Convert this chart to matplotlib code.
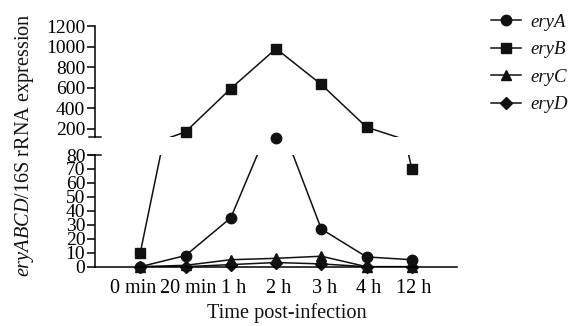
import numpy as np
import matplotlib
matplotlib.use("Agg")
import matplotlib.pyplot as plt
import matplotlib.transforms as mtransforms

plt.rcParams['font.family'] = 'Liberation Serif'
plt.rcParams['mathtext.fontset'] = 'custom'
plt.rcParams['mathtext.rm'] = 'Liberation Serif'
plt.rcParams['mathtext.it'] = 'Liberation Serif:italic'

# datos
tiempos = ['0 min', '20 min', '1 h', '2 h', '3 h', '4 h', '12 h']
eryA = [0, 8, 35, 112, 27, 7, 5]
eryB = [10, 167, 590, 980, 630, 213, 70]
eryC = [0, 1, 5, 6, 7.5, 0, 0]
eryD = [0, 0, 1.5, 3, 2, 0, 0]

series = [('eryA', eryA, 'o'), ('eryB', eryB, 's'), ('eryC', eryC, '^'), ('eryD', eryD, 'D')]
tamanos = {'o': 7.5, 's': 7.5, '^': 7.5, 'D': 6.5}

color = '#111111'
fs = 14
fs_x = 14.5
fs_lab = 14.6

fig = plt.figure(figsize=(5.84, 3.26), dpi=100)
ax_sup = fig.add_axes([0.1627, 0.580, 0.620, 0.340])
ax_inf = fig.add_axes([0.1627, 0.1819, 0.620, 0.3426])

x = np.arange(len(tiempos))

for nombre, vals, mk in series:
    vals = np.array(vals, dtype=float)
    for ax in (ax_sup, ax_inf):
        ax.plot(x, vals, color=color, lw=1.1)
    m_sup = vals >= 100
    m_inf = vals <= 80
    ax_sup.plot(x[m_sup], vals[m_sup], ls='none', marker=mk, ms=tamanos[mk],
                color=color, clip_on=False)
    ax_inf.plot(x[m_inf], vals[m_inf], ls='none', marker=mk, ms=tamanos[mk],
                color=color, clip_on=False)
    # solo para la leyenda
    ax_sup.plot([], [], color=color, lw=1.1, marker=mk, ms=tamanos[mk], label=nombre)

for ax in (ax_sup, ax_inf):
    ax.set_xlim(-1, 7)
    for s in ('top', 'right'):
        ax.spines[s].set_visible(False)
    ax.spines['left'].set_linewidth(1.1)
    ax.tick_params(axis='y', length=6, width=1.1, pad=1, labelsize=fs)

ax_sup.set_ylim(118, 1200)
ax_sup.set_yticks(range(200, 1201, 200))
ax_sup.spines['bottom'].set_visible(False)
ax_sup.set_xticks([])

ax_inf.set_ylim(0, 80)
ax_inf.set_yticks(range(0, 81, 10))
ax_inf.spines['bottom'].set_linewidth(1.1)
ax_inf.set_xticks(x)
ax_inf.set_xticklabels(tiempos, fontsize=fs_x)
ax_inf.tick_params(axis='x', length=0, pad=9)

# pequeños corrimientos de las etiquetas como en el original
desplaz = [-7, 3, 3, 3, 3, 2, 2]
for lab, dx in zip(ax_inf.get_xticklabels(), desplaz):
    off = mtransforms.ScaledTranslation(dx / 100, 0, fig.dpi_scale_trans)
    lab.set_transform(lab.get_transform() + off)

# marcas del corte del eje
tr_sup = ax_sup.get_yaxis_transform()
ax_sup.plot([-0.016, 0.016], [118, 118], color=color, lw=1.1, transform=tr_sup, clip_on=False)
tr_inf = ax_inf.get_yaxis_transform()
ax_inf.plot([-0.016, 0.016], [80, 80], color=color, lw=1.1, transform=tr_inf, clip_on=False)

fig.text(25 / 584, 1 - 145 / 326, r'$\mathit{eryABCD}$/16S rRNA expression',
         rotation=90, ha='center', va='center', fontsize=fs_lab, color=color)
fig.text(287 / 584, 1 - 313 / 326, 'Time post-infection',
         ha='center', va='center', fontsize=fs_lab, color=color)

fig.legend(loc='upper left', bbox_to_anchor=(0.835, 0.969), frameon=False,
           prop={'family': 'Liberation Serif', 'style': 'italic', 'size': 13.5},
           handlelength=1.6, handletextpad=0.5, labelspacing=0.55,
           borderpad=0.2, borderaxespad=0, labelcolor=color)

fig.savefig('out.png', dpi=100)
